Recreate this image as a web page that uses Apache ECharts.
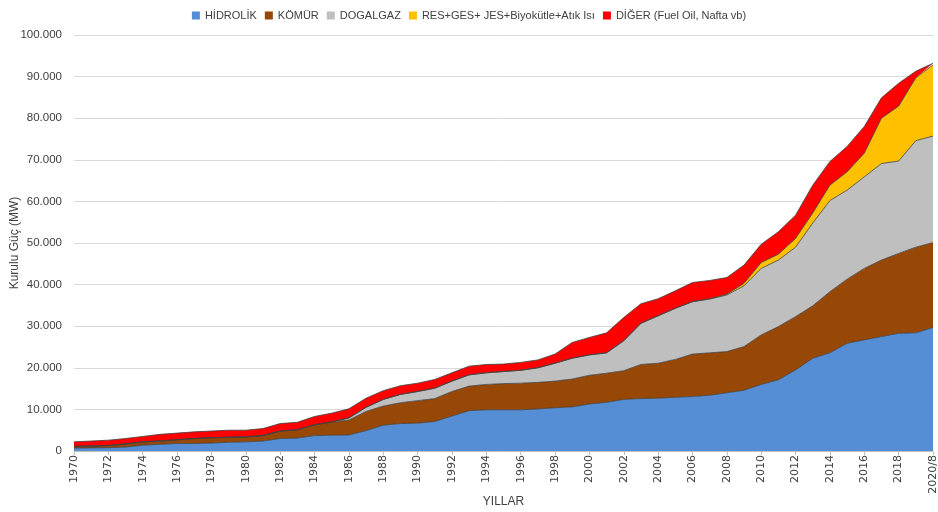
<!DOCTYPE html>
<html><head><meta charset="utf-8">
<script src="https://cdn.jsdelivr.net/npm/echarts@6/dist/echarts.min.js"></script>
<style>html,body{margin:0;padding:0;background:#fff}#c{width:938px;height:512px}</style>
</head><body><div id="c"></div>
<script>
const years = [];
for (let y = 1970; y <= 2019; y++) years.push(String(y));
years.push('2020/8');

const hidrolik = [700,750,800,950,1400,1600,1800,1800,1900,2100,2200,2400,3000,3100,3700,3800,3850,4900,6200,6600,6700,7100,8400,9700,9900,9900,9900,10100,10400,10600,11300,11700,12400,12600,12700,12900,13100,13400,14000,14600,16000,17100,19500,22300,23600,25900,26700,27500,28300,28400,29700];
const komur    = [400,450,500,750,800,800,900,1200,1300,1200,1200,1300,1800,2000,2600,3200,3600,4600,4600,5000,5400,5500,5900,5900,6100,6300,6400,6400,6400,6700,6900,7000,6900,8200,8400,9100,10200,10200,9900,10500,11900,12800,12800,12600,14700,15400,17200,18400,19200,20600,20400];
const dogalgaz = [0,0,0,0,0,0,0,0,0,0,0,0,0,0,0,0,500,1000,1600,2000,2200,2500,2500,2700,2800,2900,3100,3500,4300,5000,4900,4900,7200,9900,11400,12300,12600,12900,13600,14600,16000,16000,16700,19900,21900,21400,22000,23200,22200,25600,25600];
const yenilenebilir = [0,0,0,0,0,0,0,0,0,0,0,0,0,0,0,0,0,0,0,0,0,0,0,0,0,0,0,0,0,0,0,0,0,0,0,0,0,100,200,600,1400,1400,2100,2400,3700,4400,5700,10900,13200,15100,17100];
const diger    = [1100,1200,1300,1300,1300,1600,1600,1600,1600,1700,1600,1700,1800,1800,2000,2100,2200,2200,2100,2100,2000,2100,2000,2100,2000,1800,1900,1900,2200,3800,4200,4800,5600,4700,4100,4200,4600,4400,4000,4400,4400,5400,5600,6700,5700,6100,6400,4900,5500,1600,400];

const seriesNames = ['HİDROLİK','KÖMÜR','DOGALGAZ','RES+GES+ JES+Biyokütle+Atık Isı','DİĞER (Fuel Oil, Nafta vb)'];
const seriesData = [hidrolik, komur, dogalgaz, yenilenebilir, diger];
const colors = ['#558ED5','#974706','#BFBFBF','#FFC000','#FF0000'];

const font = "'Liberation Sans', sans-serif";
const chart = echarts.init(document.getElementById('c'));
chart.setOption({
  animation: false,
  color: colors,
  textStyle: {fontFamily: font},
  legend: {
    top: 5, left: 'center', itemWidth: 8, itemHeight: 8, itemGap: 8,
    icon: 'rect',
    textStyle: {fontSize: 11, color: '#404040', fontFamily: font},
    data: seriesNames
  },
  grid: {left: 74, right: 5, top: 35, bottom: 61, outerBoundsMode: 'none', containLabel: false},
  xAxis: {
    type: 'category', data: years, boundaryGap: false,
    name: 'YILLAR', nameLocation: 'middle', nameGap: 45, nameMoveOverlap: false,
    nameTextStyle: {fontSize: 12, color: '#404040', fontFamily: font},
    axisLine: {lineStyle: {color: '#bfbfbf'}},
    axisTick: {interval: 1, length: 4, lineStyle: {color: '#bfbfbf'}},
    axisLabel: {interval: 1, rotate: 90, fontSize: 11, color: '#404040', margin: 4, fontFamily: "'DejaVu Sans', sans-serif"}
  },
  yAxis: {
    type: 'value', min: 0, max: 100000, interval: 10000,
    name: 'Kurulu Güç (MW)', nameLocation: 'middle', nameGap: 53, nameRotate: 90, nameMoveOverlap: false,
    nameTextStyle: {fontSize: 12, color: '#404040', fontFamily: font},
    axisLine: {show: false}, axisTick: {show: false},
    splitLine: {lineStyle: {color: '#d9d9d9'}},
    axisLabel: {fontSize: 11.5, color: '#404040', margin: 12, fontFamily: font,
      formatter: v => v === 0 ? '0' : String(v).replace(/\B(?=(\d{3})+(?!\d))/g, '.')}
  },
  series: seriesData.map((d, i) => ({
    name: seriesNames[i], type: 'line', stack: 'total', data: d,
    symbol: 'none', smooth: false,
    lineStyle: {width: 0.8, color: '#404040'},
    areaStyle: {color: colors[i], opacity: 1},
    itemStyle: {color: colors[i]}
  }))
});
</script></body></html>
